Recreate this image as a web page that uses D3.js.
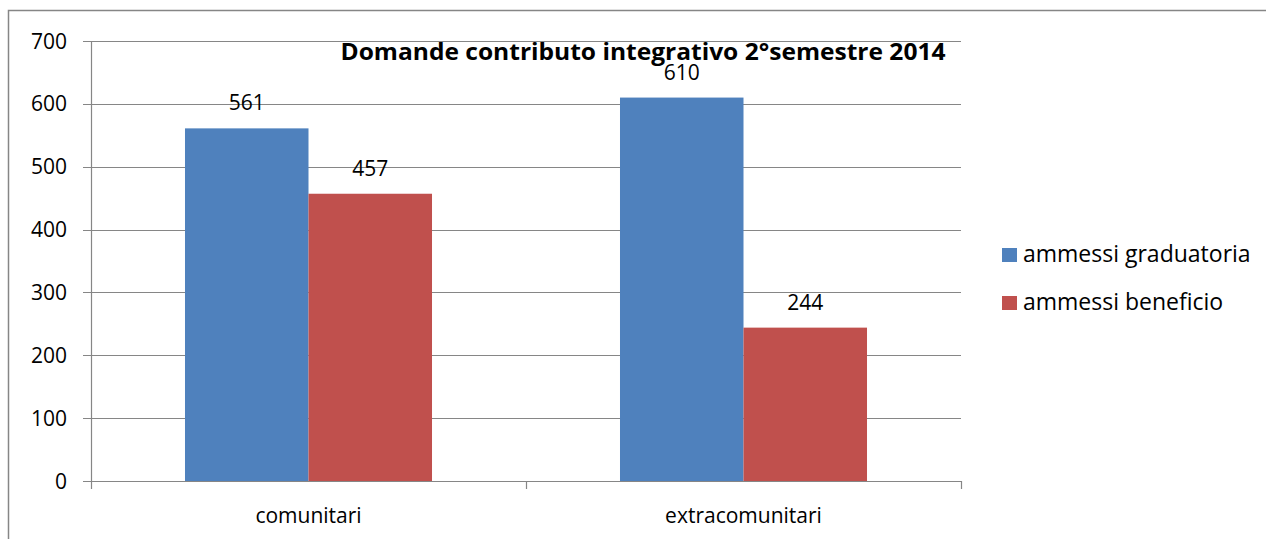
<!DOCTYPE html>
<html>
<head>
<meta charset="utf-8">
<script src="https://cdn.jsdelivr.net/npm/d3@7"></script>
<style>
  body { margin: 0; background: #fff; }
  svg { display: block; font-family: "Open Sans", sans-serif; }
</style>
</head>
<body>
<script>
const categories = ["comunitari", "extracomunitari"];
const seriesNames = ["ammessi graduatoria", "ammessi beneficio"];
const graduatoria = [561, 610];
const beneficio = [457, 244];
const yTicks = [0, 100, 200, 300, 400, 500, 600, 700];
const title = "Domande contributo integrativo 2°semestre 2014";

const width = 1266;
const height = 539;
const colours = ["#4F81BD", "#C0504D"];
const grey = "#868686";

const svg = d3
    .select("body")
    .append("svg")
    .attr("width", width)
    .attr("height", height);

// outer chart frame (right / bottom edges fall outside the picture)
svg.append("rect")
    .attr("x", 8.5)
    .attr("y", 10.5)
    .attr("width", 1270)
    .attr("height", 540)
    .attr("fill", "none")
    .attr("stroke", grey)
    .attr("stroke-width", 1.5);

const margin = { left: 91, right: 961, top: 41, bottom: 481 };

const x0 = d3.scaleBand().domain(categories).range([margin.left, margin.right]).padding(0);
const x1 = d3.scaleBand().domain(seriesNames).range([0, x0.bandwidth()]).paddingInner(0).paddingOuter(0.761);
const y = d3.scaleLinear().domain([0, 700]).range([margin.bottom, margin.top]);

// gridlines
svg.append("g")
    .selectAll("line")
    .data(yTicks)
    .join("line")
    .attr("x1", margin.left - 8)
    .attr("x2", margin.right)
    .attr("y1", (d) => Math.round(y(d)) + 0.5)
    .attr("y2", (d) => Math.round(y(d)) + 0.5)
    .attr("stroke", grey)
    .attr("stroke-width", 1.2);

// y axis line
svg.append("line")
    .attr("x1", margin.left + 0.5)
    .attr("x2", margin.left + 0.5)
    .attr("y1", margin.top)
    .attr("y2", margin.bottom)
    .attr("stroke", grey)
    .attr("stroke-width", 1.2);

// y labels
svg.append("g")
    .selectAll("text")
    .data(yTicks)
    .join("text")
    .attr("x", 67)
    .attr("y", (d) => y(d))
    .attr("dy", "0.36em")
    .attr("text-anchor", "end")
    .attr("font-size", 21)
    .attr("fill", "#000")
    .text((d) => d);

// bars
const rows = categories.map((c, i) => ({ cat: c, values: [graduatoria[i], beneficio[i]] }));

const groups = svg.append("g")
    .selectAll("g")
    .data(rows)
    .join("g")
    .attr("transform", (d) => `translate(${x0(d.cat)},0)`);

groups.selectAll("rect")
    .data((d) => d.values.map((v, j) => ({ key: seriesNames[j], value: v, j })))
    .join("rect")
    .attr("x", (d) => x1(d.key))
    .attr("width", x1.bandwidth())
    .attr("y", (d) => y(d.value))
    .attr("height", (d) => y(0) - y(d.value))
    .attr("fill", (d) => colours[d.j]);

groups.selectAll("text")
    .data((d) => d.values.map((v, j) => ({ key: seriesNames[j], value: v })))
    .join("text")
    .attr("x", (d) => x1(d.key) + x1.bandwidth() / 2)
    .attr("y", (d) => y(d.value) - 18)
    .attr("text-anchor", "middle")
    .attr("font-size", 21)
    .text((d) => d.value);

// x axis line + ticks
svg.append("line")
    .attr("x1", margin.left)
    .attr("x2", margin.right)
    .attr("y1", margin.bottom + 0.5)
    .attr("y2", margin.bottom + 0.5)
    .attr("stroke", grey)
    .attr("stroke-width", 1.2);

const tickXs = categories.map((c) => x0(c)).concat([margin.right]);
svg.append("g")
    .selectAll("line")
    .data(tickXs)
    .join("line")
    .attr("x1", (d) => Math.round(d) + 0.5)
    .attr("x2", (d) => Math.round(d) + 0.5)
    .attr("y1", margin.bottom)
    .attr("y2", margin.bottom + 8)
    .attr("stroke", grey)
    .attr("stroke-width", 1.2);

svg.append("g")
    .selectAll("text")
    .data(categories)
    .join("text")
    .attr("x", (d) => x0(d) + x0.bandwidth() / 2)
    .attr("y", 523)
    .attr("text-anchor", "middle")
    .attr("font-size", 21)
    .text((d) => d);

// title
svg.append("text")
    .attr("x", 643)
    .attr("y", 60)
    .attr("text-anchor", "middle")
    .attr("font-size", 23)
    .attr("font-weight", "bold")
    .attr("textLength", 605)
    .attr("lengthAdjust", "spacingAndGlyphs")
    .text(title);

// legend
const legend = svg.append("g")
    .selectAll("g")
    .data(seriesNames)
    .join("g")
    .attr("transform", (d, i) => `translate(1002, ${248 + i * 48})`);

legend.append("rect")
    .attr("width", 15)
    .attr("height", 14)
    .attr("fill", (d, i) => colours[i]);

legend.append("text")
    .attr("x", 21)
    .attr("y", 14)
    .attr("font-size", 23)
    .text((d) => d);
</script>
</body>
</html>
